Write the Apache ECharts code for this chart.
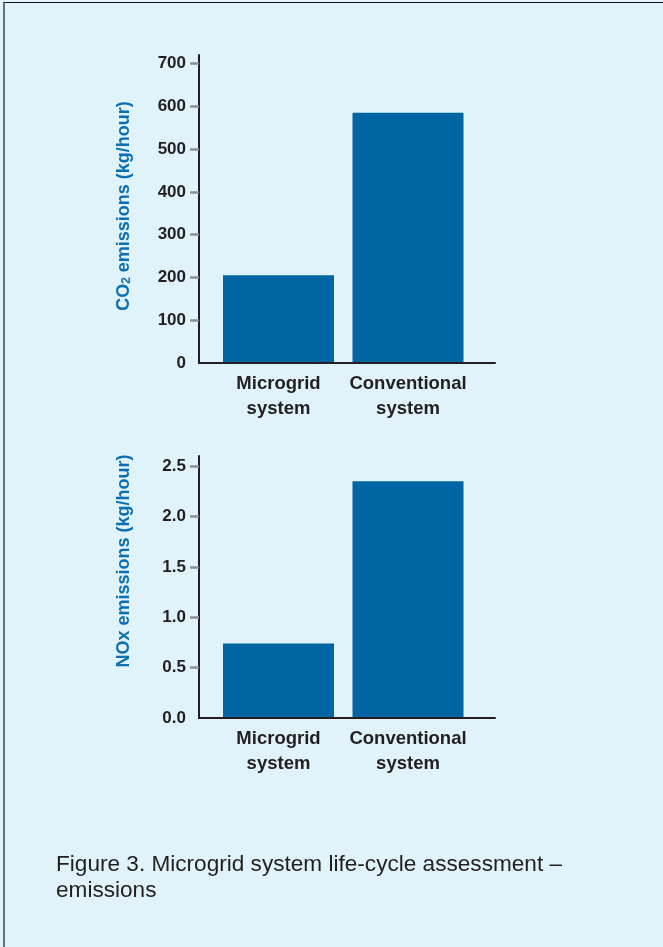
<!DOCTYPE html>
<html>
<head>
<meta charset="utf-8">
<script src="https://cdn.jsdelivr.net/npm/echarts@6/dist/echarts.min.js"></script>
<style>
  html, body { margin: 0; padding: 0; background: #e0f2fa; }
  #frame { position: absolute; left: 3px; top: 2px; width: 660px; height: 945px;
           border-left: 2px solid #6d6e70; border-top: 1px solid #111; box-sizing: border-box; }
  #chart { position: absolute; left: 0; top: 0; width: 663px; height: 947px; }
</style>
</head>
<body>
<div id="frame"></div>
<div id="chart"></div>
<script>
// values
const categories = ['Microgrid\nsystem', 'Conventional\nsystem'];
const co2Values = [205, 585];
const noxValues = [0.74, 2.35];
const co2Labels = [0, 100, 200, 300, 400, 500, 600, 700];
const noxLabels = [0, 0.5, 1.0, 1.5, 2.0, 2.5];
const caption = 'Figure 3. Microgrid system life-cycle assessment –\nemissions';

const dark = '#231f20';
const blue = '#0066a3';
const nameBlue = '#0a6fb2';
const helv = '"Liberation Sans", Arial, sans-serif';

const chart = echarts.init(document.getElementById('chart'), null, { renderer: 'canvas' });

function frameY(gridIndex, max, labels, name, fmt, pad) {
    return {
        gridIndex: gridIndex,
        type: 'value', min: 0, max: max, z: 3,
        name: name, nameLocation: 'middle', nameGap: 66,
        nameTextStyle: {
            color: nameBlue, fontSize: 18, fontWeight: 'bold', fontFamily: helv,
            padding: pad,
            rich: { sub: { color: nameBlue, fontSize: 12, fontWeight: 'bold', fontFamily: helv, verticalAlign: 'bottom', lineHeight: 14 } }
        },
        axisLine: { show: true, lineStyle: { color: dark, width: 2 } },
        axisTick: { show: true, length: 9, lineStyle: { color: '#8c9096', width: 2.5 }, customValues: labels.slice(1) },
        axisLabel: { margin: 13, color: dark, fontSize: 17, fontWeight: 'bold', fontFamily: helv,
                     customValues: labels, formatter: fmt },
        splitLine: { show: false }
    };
}

function frameX(gridIndex) {
    return {
        gridIndex: gridIndex, type: 'value', min: 0, max: 1, z: 3,
        axisLine: { show: true, lineStyle: { color: dark, width: 2 } },
        axisTick: { show: false }, axisLabel: { show: false }, splitLine: { show: false }
    };
}

function barX(gridIndex) {
    return {
        gridIndex: gridIndex, type: 'category', data: categories,
        axisLine: { show: false }, axisTick: { show: false },
        axisLabel: { interval: 0, margin: 8, color: dark, fontSize: 18.5, fontWeight: 'bold', fontFamily: helv, lineHeight: 25 }
    };
}

function barY(gridIndex, max) {
    return { gridIndex: gridIndex, type: 'value', min: 0, max: max, show: false, splitLine: { show: false } };
}

chart.setOption({
    animation: false,
    title: {
        text: caption, left: 56, top: 852, padding: 0,
        textStyle: { color: dark, fontSize: 22.6, fontWeight: 'normal', fontFamily: helv, lineHeight: 26 }
    },
    grid: [
        { left: 199, top: 55, width: 296, height: 308 },
        { left: 213.75, top: 55, width: 259, height: 308 },
        { left: 199, top: 456, width: 296, height: 262 },
        { left: 213.75, top: 456, width: 259, height: 262 }
    ],
    xAxis: [frameX(0), barX(1), frameX(2), barX(3)],
    yAxis: [
        frameY(0, 720, co2Labels, 'CO{sub|2} emissions (kg/hour)', v => String(v), [0, 0, 0, 6]),
        barY(1, 720),
        frameY(2, 2.6, noxLabels, 'NOx emissions (kg/hour)', v => v.toFixed(1), [0, 0, 0, 52]),
        barY(3, 2.6)
    ],
    series: [
        { type: 'bar', xAxisIndex: 1, yAxisIndex: 1, data: co2Values, barWidth: 111, itemStyle: { color: blue } },
        { type: 'bar', xAxisIndex: 3, yAxisIndex: 3, data: noxValues, barWidth: 111, itemStyle: { color: blue } }
    ]
});
</script>
</body>
</html>
